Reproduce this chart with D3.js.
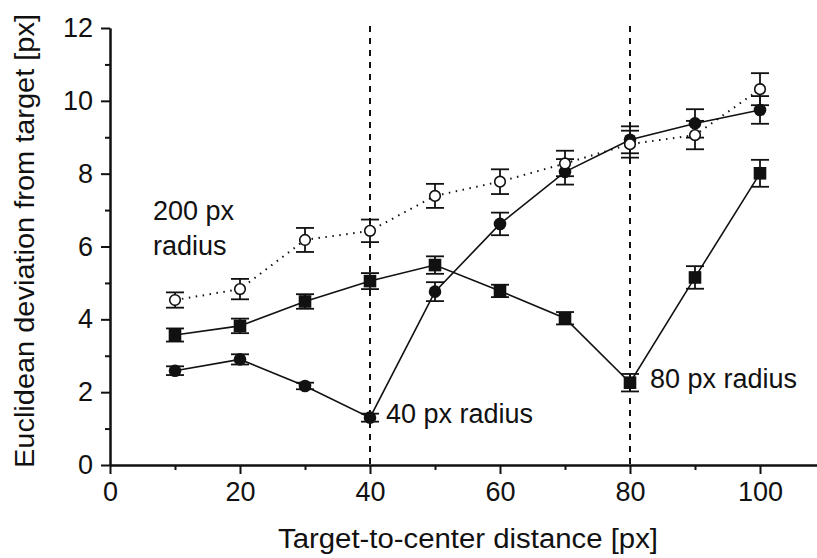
<!DOCTYPE html>
<html>
<head>
<meta charset="utf-8">
<script src="https://cdn.jsdelivr.net/npm/d3@7"></script>
<style>
  html, body { margin: 0; padding: 0; background: #fff; }
  svg { display: block; }
  text { font-family: "Liberation Sans", Arial, Helvetica, sans-serif; fill: #111; }
</style>
</head>
<body>
<svg id="chart" width="817" height="558"></svg>
<script>
// Target-to-center distance (px)
const distances = [10, 20, 30, 40, 50, 60, 70, 80, 90, 100];

// 200 px radius condition (open circles, dotted line)
const r200Mean = [4.53, 4.83, 6.18, 6.43, 7.39, 7.78, 8.28, 8.81, 9.06, 10.32];
const r200Err  = [0.21, 0.28, 0.33, 0.31, 0.33, 0.34, 0.35, 0.37, 0.39, 0.44];

// 40 px radius condition (filled circles)
const r40Mean = [2.59, 2.90, 2.17, 1.30, 4.76, 6.62, 8.05, 8.93, 9.38, 9.75];
const r40Err  = [0.12, 0.14, 0.09, 0.11, 0.26, 0.31, 0.35, 0.37, 0.39, 0.38];

// 80 px radius condition (filled squares)
const r80Mean = [3.57, 3.82, 4.49, 5.05, 5.49, 4.78, 4.03, 2.26, 5.15, 8.01];
const r80Err  = [0.18, 0.20, 0.20, 0.22, 0.24, 0.17, 0.17, 0.24, 0.31, 0.37];

// Reference radii marked with vertical dashed lines
const radiusMarks = [40, 80];

const xMajorTicks = [0, 20, 40, 60, 80, 100];
const xMinorTicks = [10, 30, 50, 70, 90];
const yMajorTicks = [0, 2, 4, 6, 8, 10, 12];
const yMinorTicks = [1, 3, 5, 7, 9, 11];

const svg = d3.select("#chart");

const x = d3.scaleLinear().domain([0, 110]).range([110, 825]);
const y = d3.scaleLinear().domain([0, 12]).range([465, 28]);

const zip = (m, e) => distances.map((d, i) => ({ d, v: m[i], e: e[i] }));
const s200 = zip(r200Mean, r200Err);
const s40 = zip(r40Mean, r40Err);
const s80 = zip(r80Mean, r80Err);

// Axes
const xAxis = d3.axisBottom(x).tickValues(xMajorTicks).tickSize(9).tickPadding(8).tickSizeOuter(0);
const xMinor = d3.axisBottom(x).tickValues(xMinorTicks).tickSize(5).tickFormat("").tickSizeOuter(0);
const yAxis = d3.axisLeft(y).tickValues(yMajorTicks).tickSize(9).tickPadding(8).tickSizeOuter(0);
const yMinor = d3.axisLeft(y).tickValues(yMinorTicks).tickSize(5).tickFormat("").tickSizeOuter(0);

function styleAxis(g) {
  g.select(".domain").attr("stroke", "#111").attr("stroke-width", 2);
  g.selectAll(".tick line").attr("stroke", "#111").attr("stroke-width", 2);
  g.selectAll(".tick text")
    .attr("font-family", '"Liberation Sans", Arial, sans-serif')
    .attr("font-size", 27).attr("fill", "#111");
}

svg.append("g").attr("transform", `translate(0,${y(0)})`).call(xMinor).call(styleAxis);
svg.append("g").attr("transform", `translate(0,${y(0)})`).call(xAxis).call(styleAxis);
svg.append("g").attr("transform", `translate(${x(0)},0)`).call(yMinor).call(styleAxis);
svg.append("g").attr("transform", `translate(${x(0)},0)`).call(yAxis).call(styleAxis);

// Vertical dashed reference lines
svg.selectAll(".ref").data(radiusMarks).enter().append("line")
  .attr("x1", d => x(d)).attr("x2", d => x(d))
  .attr("y1", 26).attr("y2", y(0))
  .attr("stroke", "#111").attr("stroke-width", 2)
  .attr("stroke-dasharray", "6,6");

// Connecting lines
const line = d3.line().x(p => x(p.d)).y(p => y(p.v));
svg.append("path").datum(s40).attr("d", line)
  .attr("fill", "none").attr("stroke", "#111").attr("stroke-width", 1.6);
svg.append("path").datum(s80).attr("d", line)
  .attr("fill", "none").attr("stroke", "#111").attr("stroke-width", 1.6);
svg.append("path").datum(s200).attr("d", line)
  .attr("fill", "none").attr("stroke", "#111").attr("stroke-width", 2)
  .attr("stroke-dasharray", "1.5,5.5");

// Error bars with caps
function errorBars(data) {
  const g = svg.append("g").attr("stroke", "#111").attr("stroke-width", 1.8);
  const cap = 9;
  data.forEach(p => {
    g.append("line").attr("x1", x(p.d)).attr("x2", x(p.d))
      .attr("y1", y(p.v + p.e)).attr("y2", y(p.v - p.e));
    g.append("line").attr("x1", x(p.d) - cap).attr("x2", x(p.d) + cap)
      .attr("y1", y(p.v + p.e)).attr("y2", y(p.v + p.e));
    g.append("line").attr("x1", x(p.d) - cap).attr("x2", x(p.d) + cap)
      .attr("y1", y(p.v - p.e)).attr("y2", y(p.v - p.e));
  });
}
errorBars(s80);
errorBars(s40);
errorBars(s200);

// Markers
svg.append("g").selectAll("rect").data(s80).enter().append("rect")
  .attr("x", p => x(p.d) - 6.3).attr("y", p => y(p.v) - 6.3)
  .attr("width", 12.6).attr("height", 12.6).attr("fill", "#111");
svg.append("g").selectAll("circle").data(s40).enter().append("circle")
  .attr("cx", p => x(p.d)).attr("cy", p => y(p.v)).attr("r", 6.3).attr("fill", "#111");
svg.append("g").selectAll("circle").data(s200).enter().append("circle")
  .attr("cx", p => x(p.d)).attr("cy", p => y(p.v)).attr("r", 5.3)
  .attr("fill", "#fff").attr("stroke", "#111").attr("stroke-width", 1.6);

// Condition labels
const note = (tx, ty, str) => svg.append("text").attr("x", tx).attr("y", ty)
  .attr("font-size", 27).text(str);
note(153, 220, "200 px");
note(153, 255, "radius");
note(x(40) + 16, 423, "40 px radius");
note(x(80) + 20, 388, "80 px radius");

// Axis titles
svg.append("text")
  .attr("x", 468).attr("y", 548).attr("text-anchor", "middle")
  .attr("font-size", 27).attr("textLength", 380).attr("lengthAdjust", "spacingAndGlyphs")
  .text("Target-to-center distance [px]");
svg.append("text")
  .attr("transform", "translate(34,241) rotate(-90)").attr("text-anchor", "middle")
  .attr("font-size", 27).attr("textLength", 454).attr("lengthAdjust", "spacingAndGlyphs")
  .text("Euclidean deviation from target [px]");
</script>
</body>
</html>
